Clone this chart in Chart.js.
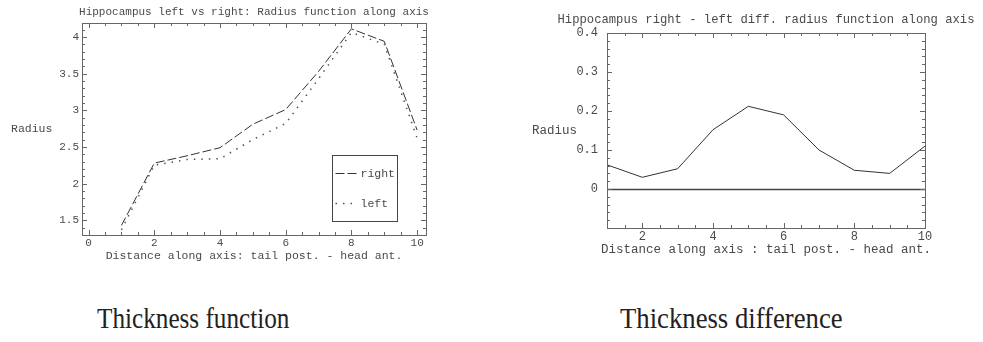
<!DOCTYPE html>
<html>
<head>
<meta charset="utf-8">
<script src="https://cdn.jsdelivr.net/npm/chart.js@4"></script>
<style>
  body { margin: 0; background: #fff; }
  #wrap { position: relative; width: 983px; height: 342px; overflow: hidden; }
  #thick { position: absolute; left: 0; top: 0; }
  #diff { position: absolute; left: 500px; top: 0; }
  .caption {
    position: absolute; top: 301px; font-family: "Liberation Serif", "DejaVu Serif", serif;
    font-size: 30px; color: #222; white-space: nowrap; transform-origin: left top;
    transform: scaleX(0.84);
  }
</style>
</head>
<body>
<div id="wrap">
  <canvas id="thick" width="470" height="270"></canvas>
  <canvas id="diff" width="483" height="270"></canvas>
  <div class="caption" style="left:97px">Thickness function</div>
  <div class="caption" style="left:620px; transform: scaleX(0.89)">Thickness difference</div>
</div>
<script>
// values
const distance = [1, 2, 3, 4, 5, 6, 7, 8, 9, 10];
const radiusRight = [1.43, 2.28, 2.38, 2.49, 2.81, 3.01, 3.53, 4.11, 3.94, 2.73];
const radiusLeft = [1.37, 2.25, 2.33, 2.34, 2.60, 2.82, 3.43, 4.06, 3.90, 2.62];
const radiusDiff = [0.062, 0.030, 0.052, 0.152, 0.212, 0.190, 0.100, 0.048, 0.040, 0.110];

const thickTicksX = [0, 2, 4, 6, 8, 10];
const thickTicksY = [1.5, 2, 2.5, 3, 3.5, 4];
const diffTicksX = [2, 4, 6, 8, 10];
const diffTicksY = [0, 0.1, 0.2, 0.3, 0.4];

const textColor = '#4a4a4a';
const lineColor = '#333';
const mono = '"Liberation Mono", "DejaVu Sans Mono", monospace';

const pts = (ys) => ys.map((y, i) => ({ x: distance[i], y: y }));

// frame with inward ticks, titles, legend box, zero line
const frameDecor = {
  id: 'frameDecor',
  afterDatasetsDraw(chart, args, o) {
    const { ctx, chartArea: a, scales } = chart;
    const xs = scales.x, ys = scales.y;
    ctx.save();
    ctx.strokeStyle = '#666';
    ctx.lineWidth = 1;

    if (o.zeroLine) {
      const y0 = Math.round(ys.getPixelForValue(0)) + 0.5;
      ctx.save();
      ctx.strokeStyle = '#444';
      ctx.lineWidth = 1.5;
      ctx.beginPath();
      ctx.moveTo(a.left, y0);
      ctx.lineTo(a.right, y0);
      ctx.stroke();
      ctx.restore();
    }

    ctx.strokeRect(Math.round(a.left) + 0.5, Math.round(a.top) + 0.5,
      Math.round(a.right - a.left), Math.round(a.bottom - a.top));

    ctx.beginPath();
    const tickRun = (scale, minor, major, draw) => {
      const start = Math.ceil((scale.min - 1e-9) / minor);
      for (let k = start; k * minor <= scale.max + 1e-9; k++) {
        const v = k * minor;
        const isMajor = Math.abs(v / major - Math.round(v / major)) < 1e-6;
        draw(Math.round(scale.getPixelForValue(v)) + 0.5, isMajor ? 5 : 3);
      }
    };
    tickRun(xs, o.xMinor, o.xMajor, (px, len) => {
      ctx.moveTo(px, a.bottom); ctx.lineTo(px, a.bottom - len);
      ctx.moveTo(px, a.top); ctx.lineTo(px, a.top + len);
    });
    tickRun(ys, o.yMinor, o.yMajor, (py, len) => {
      ctx.moveTo(a.left, py); ctx.lineTo(a.left + len, py);
      ctx.moveTo(a.right, py); ctx.lineTo(a.right - len, py);
    });
    ctx.stroke();

    const cx = (a.left + a.right) / 2;
    const cy = (a.top + a.bottom) / 2;
    ctx.fillStyle = textColor;
    ctx.textBaseline = 'middle';
    ctx.font = o.titleSize + 'px ' + mono;
    ctx.textAlign = 'center';
    ctx.fillText(o.title, cx, a.top - o.titleGap);
    ctx.font = o.labelSize + 'px ' + mono;
    ctx.fillText(o.xTitle, cx, a.bottom + o.xTitleGap);
    ctx.textAlign = 'left';
    ctx.fillText(o.yTitle, a.left - o.yTitleGap, cy);

    if (o.legend) {
      const L = o.legend;
      const bx = Math.round(a.right - L.right - L.w) + 0.5;
      const by = Math.round(a.top + L.top) + 0.5;
      ctx.strokeStyle = '#444';
      ctx.strokeRect(bx, by, L.w, L.h);
      chart.data.datasets.forEach((ds, i) => {
        const ly = by + L.rowY[i];
        ctx.save();
        ctx.strokeStyle = ds.borderColor;
        ctx.lineWidth = ds.borderWidth;
        ctx.setLineDash(ds.borderDash || []);
        ctx.beginPath();
        ctx.moveTo(bx + 3, ly);
        ctx.lineTo(bx + 24, ly);
        ctx.stroke();
        ctx.restore();
        ctx.font = o.labelSize + 'px ' + mono;
        ctx.fillStyle = textColor;
        ctx.fillText(ds.label, bx + 28, ly);
      });
    }
    ctx.restore();
  }
};

const axis = (min, max, tickList, width, height, pad, size) => ({
  type: 'linear',
  min: min,
  max: max,
  grid: { display: false, drawTicks: false },
  border: { display: false },
  ticks: {
    color: textColor,
    font: { family: mono, size: size },
    padding: pad,
    autoSkip: false,
    maxRotation: 0,
    callback: (v) => String(v)
  },
  afterBuildTicks: (s) => { s.ticks = tickList.map((v) => ({ value: v })); },
  afterFit: (s) => {
    if (width) s.width = width;
    if (height) s.height = height;
  }
});

new Chart(document.getElementById('thick'), {
  type: 'line',
  data: {
    datasets: [
      {
        label: 'right',
        data: pts(radiusRight),
        borderColor: lineColor,
        borderWidth: 1,
        borderDash: [9, 3],
        pointRadius: 0,
        tension: 0
      },
      {
        label: 'left',
        data: pts(radiusLeft),
        borderColor: '#555',
        borderWidth: 1.5,
        borderDash: [1.5, 6],
        pointRadius: 0,
        tension: 0
      }
    ]
  },
  options: {
    responsive: false,
    animation: false,
    devicePixelRatio: 1,
    layout: { padding: { top: 23, right: 44, left: 0, bottom: 0 } },
    scales: {
      x: axis(-0.2, 10.27, thickTicksX, null, 35, 1.5, 11),
      y: axis(1.3, 4.19, thickTicksY, 82, null, 3, 11)
    },
    plugins: {
      legend: { display: false },
      tooltip: { enabled: false },
      frameDecor: {
        title: 'Hippocampus left vs right: Radius function along axis',
        xTitle: 'Distance along axis: tail post. - head ant.',
        yTitle: 'Radius',
        titleSize: 11,
        labelSize: 11.5,
        titleGap: 11,
        xTitleGap: 21,
        yTitleGap: 71,
        xMajor: 2, xMinor: 0.5,
        yMajor: 0.5, yMinor: 0.1,
        legend: { right: 29, top: 132, w: 65, h: 66, rowY: [18, 48] }
      }
    }
  },
  plugins: [frameDecor]
});

new Chart(document.getElementById('diff'), {
  type: 'line',
  data: {
    datasets: [
      {
        label: 'right - left',
        data: pts(radiusDiff),
        borderColor: lineColor,
        borderWidth: 1,
        pointRadius: 0,
        tension: 0
      }
    ]
  },
  options: {
    responsive: false,
    animation: false,
    devicePixelRatio: 1,
    layout: { padding: { top: 33, right: 58, left: 0, bottom: 0 } },
    scales: {
      x: axis(1, 10, diffTicksX, null, 42, 1.5, 12),
      y: axis(-0.1, 0.4, diffTicksY, 107, null, 9, 12)
    },
    plugins: {
      legend: { display: false },
      tooltip: { enabled: false },
      frameDecor: {
        title: 'Hippocampus right - left diff. radius function along axis',
        xTitle: 'Distance along axis : tail post. - head ant.',
        yTitle: 'Radius',
        titleSize: 12.2,
        labelSize: 12.5,
        titleGap: 13,
        xTitleGap: 21.3,
        yTitleGap: 75,
        xMajor: 2, xMinor: 0.5,
        yMajor: 0.1, yMinor: 0.02,
        zeroLine: true
      }
    }
  },
  plugins: [frameDecor]
});
</script>
</body>
</html>
